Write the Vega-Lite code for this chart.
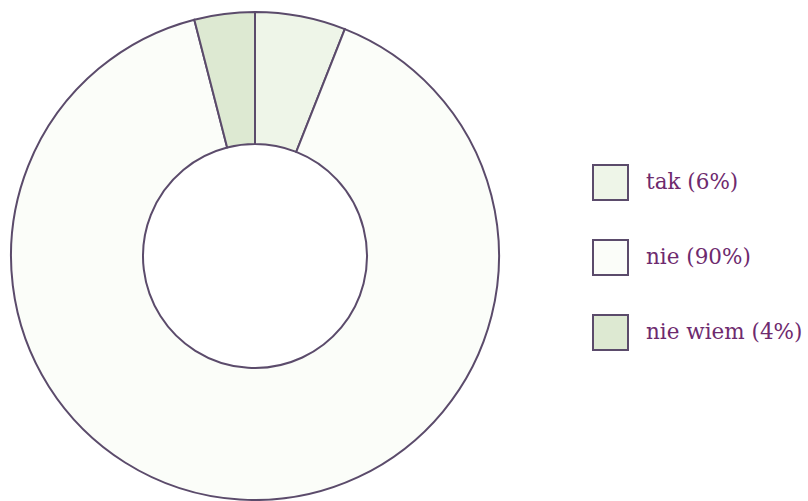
{
  "$schema": "https://vega.github.io/schema/vega-lite/v6.json",
  "width": 808,
  "height": 501,
  "autosize": "none",
  "padding": 0,
  "background": "white",
  "data": {
    "values": [
      {"odp": "tak (6%)", "proc": 6, "kol": 1},
      {"odp": "nie (90%)", "proc": 90, "kol": 2},
      {"odp": "nie wiem (4%)", "proc": 4, "kol": 3}
    ]
  },
  "mark": {
    "type": "arc",
    "x": 255,
    "y": 256,
    "innerRadius": 112,
    "outerRadius": 244,
    "stroke": "#5b4b6b",
    "strokeWidth": 2
  },
  "encoding": {
    "theta": {"field": "proc", "type": "quantitative", "stack": true},
    "order": {"field": "kol", "type": "quantitative"},
    "color": {
      "field": "odp",
      "type": "nominal",
      "sort": ["tak (6%)", "nie (90%)", "nie wiem (4%)"],
      "scale": {
        "domain": ["tak (6%)", "nie (90%)", "nie wiem (4%)"],
        "range": ["#eef5e8", "#fbfdf9", "#dde9d2"]
      },
      "legend": {
        "title": null,
        "orient": "none",
        "legendX": 592,
        "legendY": 164,
        "padding": 0,
        "symbolType": "square",
        "symbolSize": 1225,
        "symbolStrokeColor": "#5b4b6b",
        "symbolStrokeWidth": 2,
        "symbolOpacity": 1,
        "rowPadding": 32,
        "labelOffset": 17,
        "labelFont": "DejaVu Serif",
        "labelFontSize": 21.5,
        "labelColor": "#6e2a6e",
        "labelLimit": 300
      }
    }
  },
  "config": {"view": {"stroke": null}}
}
